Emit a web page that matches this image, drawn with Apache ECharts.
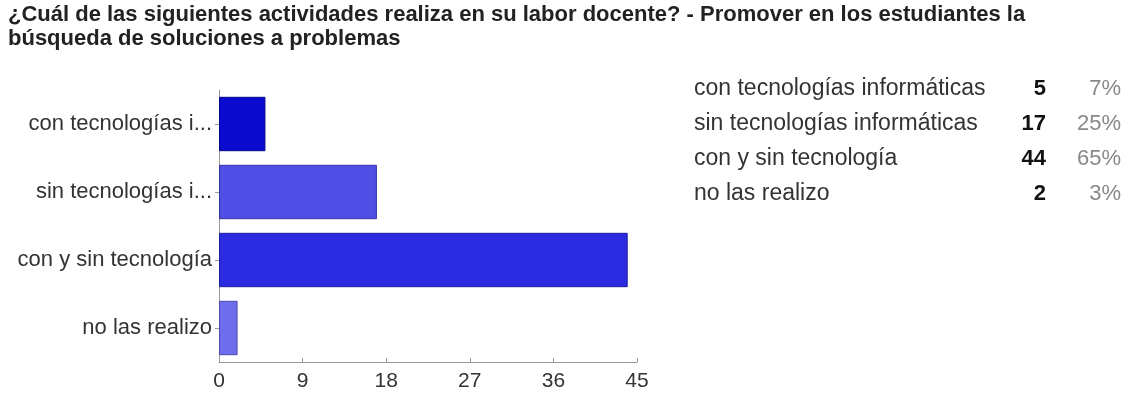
<!DOCTYPE html>
<html><head><meta charset="utf-8">
<script src="https://cdn.jsdelivr.net/npm/echarts@6/dist/echarts.min.js"></script>
<style>html,body{margin:0;padding:0;background:#fff}#c{width:1128px;height:400px}</style>
</head><body><div id="c"></div>
<script>
var titleLines = ['¿Cuál de las siguientes actividades realiza en su labor docente? - Promover en los estudiantes la', 'búsqueda de soluciones a problemas'];
var categories = ['con tecnologías informáticas', 'sin tecnologías informáticas', 'con y sin tecnología', 'no las realizo'];
var values = [5, 17, 44, 2];
var barColors = ['#0b0bcf', '#4f4fe6', '#2b2be2', '#6e6eec'];
var borderColors = ['#06068a', '#3434a8', '#1b1ba0', '#4a4ab0'];
var xTicks = [0, 9, 18, 27, 36, 45];

var FONT = '"Liberation Sans", Arial, sans-serif';
var total = values.reduce(function(a,b){return a+b;},0);
var chart = echarts.init(document.getElementById('c'), null, {renderer:'canvas'});

var graphics = [];
titleLines.forEach(function(t,i){
  graphics.push({type:'text', x:8, y:15+i*24, style:{text:t, font:'bold 22px '+FONT, fill:'#222', verticalAlign:'middle'}});
});
categories.forEach(function(c,i){
  var y = 89 + i*35;
  graphics.push({type:'text', x:694, y:y, style:{text:c, font:'23px '+FONT, fill:'#333', verticalAlign:'middle'}});
  graphics.push({type:'text', x:1046, y:y, style:{text:String(values[i]), font:'bold 22px '+FONT, fill:'#111', align:'right', verticalAlign:'middle'}});
  graphics.push({type:'text', x:1121, y:y, style:{text:Math.round(values[i]/total*100)+'%', font:'22px '+FONT, fill:'#888', align:'right', verticalAlign:'middle'}});
});

chart.setOption({
  animation:false,
  grid:{left:219, top:90, width:418, height:272, containLabel:false},
  xAxis:{type:'value', min:0, max:45, interval:9,
    axisLine:{show:true, lineStyle:{color:'#999'}},
    axisTick:{show:true, inside:true, length:4, lineStyle:{color:'#999'}},
    splitLine:{show:false},
    axisLabel:{fontSize:21, fontFamily:FONT, color:'#333', margin:9,
      formatter:function(v){return xTicks.indexOf(v)>=0?String(v):'';}}},
  yAxis:{type:'category', inverse:true, data:categories,
    axisLine:{show:true, lineStyle:{color:'#999'}},
    axisTick:{show:true, alignWithLabel:true, length:4, lineStyle:{color:'#999'}},
    axisLabel:{fontSize:22, fontFamily:FONT, color:'#333', margin:7,
      formatter:function(v){return v.length>20 ? v.slice(0,17)+'...' : v;}}},
  series:[{type:'bar', barCategoryGap:'20%',
    data:values.map(function(v,i){return {value:v, itemStyle:{color:barColors[i], borderColor:borderColors[i], borderWidth:1}};})}],
  graphic:graphics
});
</script></body></html>
